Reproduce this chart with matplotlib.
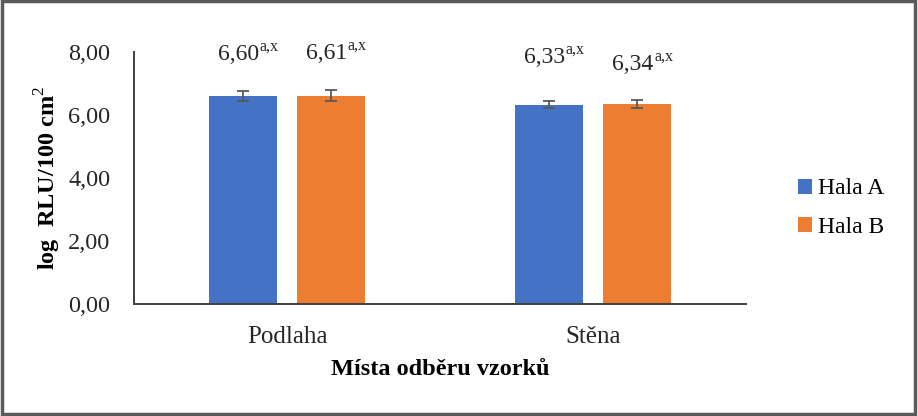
import numpy as np
import matplotlib.pyplot as plt
from matplotlib.patches import Rectangle

plt.rcParams['font.family'] = ['Liberation Serif', 'DejaVu Serif']
plt.rcParams['mathtext.fontset'] = 'custom'
plt.rcParams['mathtext.rm'] = 'Liberation Serif'
plt.rcParams['mathtext.bf'] = 'Liberation Serif:bold'

# data
categories = ['Podlaha', 'Stěna']
series = ['Hala A', 'Hala B']
hala_a = [6.60, 6.33]
hala_b = [6.61, 6.34]
err_a = [0.15, 0.10]
err_b = [0.17, 0.13]
labels_a = ['6,60', '6,33']
labels_b = ['6,61', '6,34']
label_y_a = [7.92, 7.82]
label_y_b = [7.95, 7.6]
sup = 'a,x'

colors = ['#4472C4', '#ED7D31']

fig = plt.figure(figsize=(9.18, 4.16), dpi=100)
ax = fig.add_axes([0.146, 0.269, 0.667, 0.606])

x = np.arange(len(categories))
w = 0.222
off = 0.144
ekw = dict(ecolor='#595959', elinewidth=1.3, capsize=4, capthick=1.3)
ax.bar(x - off, hala_a, w, color=colors[0], label=series[0], yerr=err_a, error_kw=ekw)
ax.bar(x + off, hala_b, w, color=colors[1], label=series[1], yerr=err_b, error_kw=ekw)


def value_label(xp, yp, txt):
    t = ax.text(xp - 0.015, yp, txt, ha='center', va='center', fontsize=17, color='#262626')
    ax.annotate(sup, xy=(1, 0.5), xycoords=t, xytext=(0.5, 0), textcoords='offset points',
                ha='left', va='bottom', fontsize=11.5, color='#262626')


for i in range(len(categories)):
    value_label(x[i] - off, label_y_a[i], labels_a[i])
    value_label(x[i] + off, label_y_b[i], labels_b[i])

ax.set_xlim(-0.5, 1.5)
ax.set_ylim(0, 8)
yt = np.arange(0, 9, 2)
ax.set_yticks(yt)
ax.set_yticklabels([('%.2f' % v).replace('.', ',') for v in yt])
ax.set_xticks(x)
ax.set_xticklabels(categories)
ax.tick_params(length=0, labelsize=17.5, colors='#262626', pad=17)
ax.tick_params(axis='x', pad=16, labelsize=18)
for s in ['top', 'right']:
    ax.spines[s].set_visible(False)
for s in ['left', 'bottom']:
    ax.spines[s].set_color('#404040')
    ax.spines[s].set_linewidth(1.4)

ax.set_xlabel('Místa odběru vzorků', fontsize=17.5, fontweight='bold', labelpad=8)
ax.set_ylabel(r'log  RLU/100 cm$^{\mathrm{2}}$', fontsize=17.5, fontweight='bold', labelpad=4)

ax.legend(loc='center left', bbox_to_anchor=(1.05, 0.38), frameon=False, fontsize=17,
          handlelength=0.6, handleheight=0.6, handletextpad=0.25, labelspacing=0.75)

fig.patches.append(Rectangle((0.002, 0.004), 0.995, 0.993, transform=fig.transFigure,
                             fill=False, edgecolor='#5a5a5a', linewidth=2.5))

fig.savefig('out.png', dpi=100)
